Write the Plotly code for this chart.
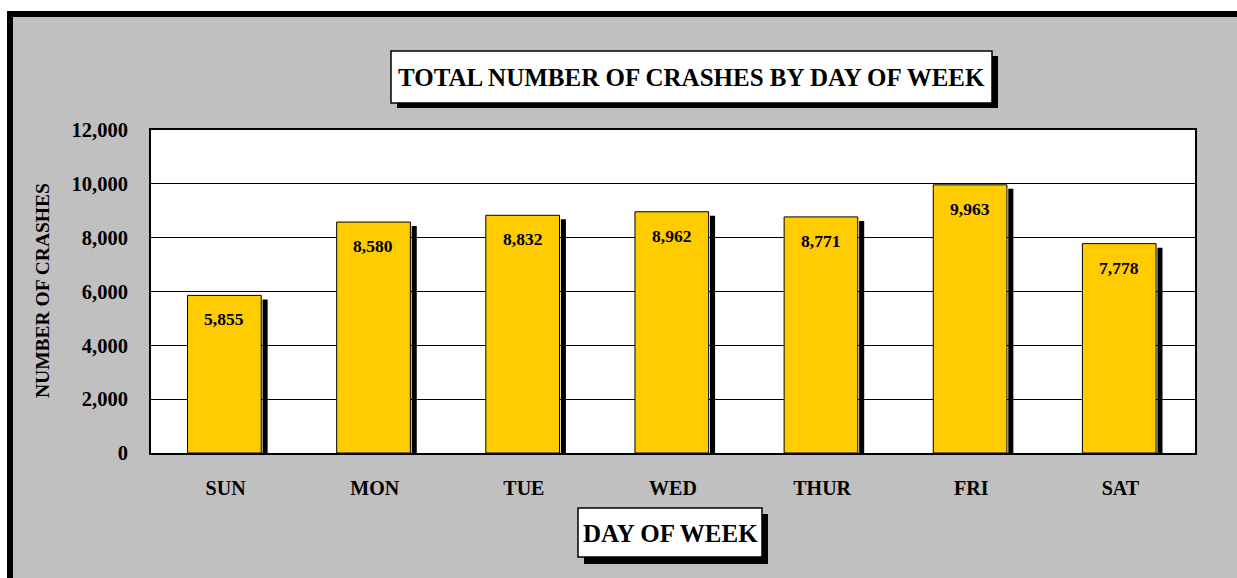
import plotly.graph_objects as go

# ---- data ----
days = ["SUN", "MON", "TUE", "WED", "THUR", "FRI", "SAT"]
crashes = [5855, 8580, 8832, 8962, 8771, 9963, 7778]
y_ticks = [0, 2000, 4000, 6000, 8000, 10000, 12000]

title_text = "TOTAL NUMBER OF CRASHES BY DAY OF WEEK"
x_title = "DAY OF WEEK"
y_title = "NUMBER OF CRASHES"

# ---- geometry (pixels) ----
W, H = 1237, 578
L, R, T, B = 151, 1195, 130, 453
YMAX = 12000
FONT = "Liberation Serif, Times New Roman, serif"


def fx(px):
    return (px - L) / (R - L)


def fy(py):
    return (B - py) / (B - T)


shadow_drop = 4 * YMAX / (B - T)  # 4 px drop of the shadow, in data units

fig = go.Figure()

# bar shadows
fig.add_trace(go.Bar(
    x=days, y=[v - shadow_drop for v in crashes],
    offset=0.248, width=0.034,
    marker=dict(color="black", line=dict(width=0)),
    hoverinfo="skip", showlegend=False,
))
# main bars
fig.add_trace(go.Bar(
    x=days, y=crashes,
    offset=-0.255, width=0.494,
    marker=dict(color="#FFCC00", line=dict(color="black", width=1)),
    showlegend=False,
))

annotations = []
for d, v in zip(days, crashes):
    annotations.append(dict(
        x=d, y=v, xref="x", yref="y", text=f"{v:,}", showarrow=False,
        xshift=-1.5, yshift=-24, yanchor="middle",
        font=dict(family=FONT, size=17.5, color="black", weight="bold"),
    ))

# title text
annotations.append(dict(
    x=fx((391 + 992) / 2), y=fy(78), xref="paper", yref="paper",
    text=title_text, showarrow=False, xanchor="center", yanchor="middle",
    font=dict(family=FONT, size=25, color="black", weight="bold"),
))
# x axis title
annotations.append(dict(
    x=fx((578 + 762) / 2), y=fy(533), xref="paper", yref="paper",
    text=x_title, showarrow=False, xanchor="center", yanchor="middle",
    font=dict(family=FONT, size=25, color="black", weight="bold"),
))
# y axis title
annotations.append(dict(
    x=fx(42), y=fy(291), xref="paper", yref="paper",
    text=y_title, showarrow=False, xanchor="center", yanchor="middle",
    textangle=-90,
    font=dict(family=FONT, size=19.5, color="black", weight="bold"),
))


def rect(x0, y0, x1, y1, fill, line_color=None, line_width=0, layer="above"):
    return dict(
        type="rect", xref="paper", yref="paper",
        x0=fx(x0), x1=fx(x1), y0=fy(y1), y1=fy(y0),
        fillcolor=fill, layer=layer,
        line=dict(color=line_color or fill, width=line_width),
    )


shapes = [
    # white page outside the grey panel
    rect(0, 0, W, 11, "white"),
    rect(0, 0, 7, H, "white"),
    # thick black panel border (top and left)
    rect(7, 11, W, 17, "black"),
    rect(7, 11, 13, H, "black"),
    # title box with shadow
    rect(397, 56, 998, 108, "black"),
    rect(391, 51, 992, 103, "white", "black", 1.5),
    # x-title box with shadow
    rect(584, 514, 768, 564, "black"),
    rect(578, 508, 762, 557, "white", "black", 1.5),
]

fig.update_layout(
    width=W, height=H,
    margin=dict(l=L, r=W - R, t=T, b=H - B, pad=0),
    paper_bgcolor="#C0C0C0",
    plot_bgcolor="white",
    barmode="overlay",
    annotations=annotations,
    shapes=shapes,
    font=dict(family=FONT, color="black"),
)

fig.update_xaxes(
    type="category", categoryorder="array", categoryarray=days,
    showline=True, linecolor="black", linewidth=2, mirror=True,
    ticks="", ticklabelstandoff=16,
    tickfont=dict(family=FONT, size=20, color="black", weight="bold"),
    showgrid=False,
)
fig.update_yaxes(
    range=[0, YMAX], tickvals=y_ticks, tickformat=",",
    showline=True, linecolor="black", linewidth=2, mirror=True,
    showgrid=True, gridcolor="black", gridwidth=1.4,
    zeroline=False,
    ticks="", ticklabelstandoff=17,
    tickfont=dict(family=FONT, size=20.5, color="black", weight="bold"),
)

fig.write_html(
    "out.html",
    config={"displayModeBar": False},
    post_script="document.body.style.margin='0';document.body.style.padding='0';"
                "document.body.style.overflow='hidden';",
)
